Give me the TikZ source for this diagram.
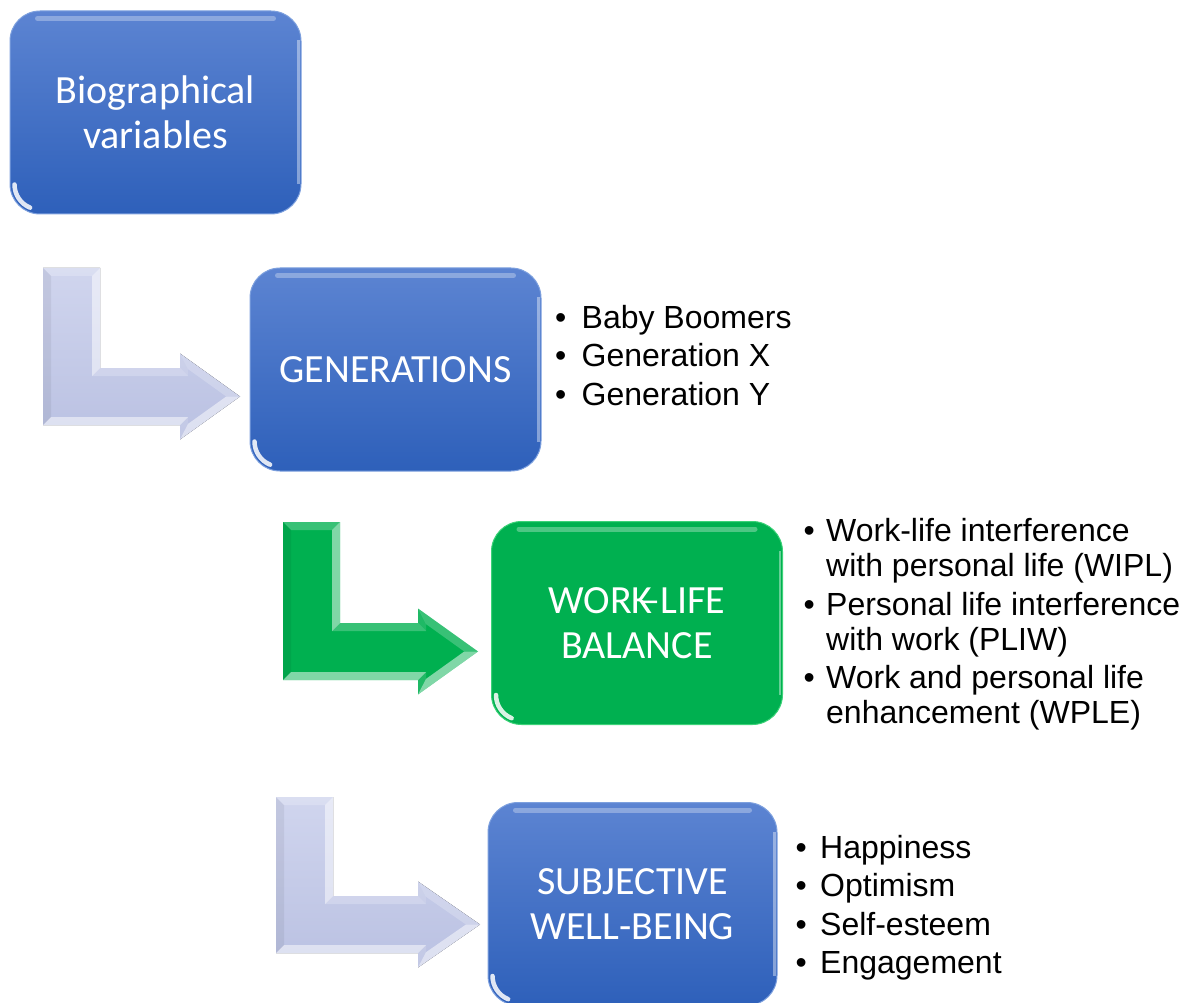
\documentclass[tikz,border=0pt]{standalone}
\usepackage{fontspec}
\setmainfont{Liberation Sans}
\newfontfamily\calfont{Carlito}
\usetikzlibrary{calc}

\definecolor{bluetop}{RGB}{92,132,210}
\definecolor{bluebot}{RGB}{46,96,186}
\definecolor{blueedge}{RGB}{125,160,222}
\definecolor{greenbody}{RGB}{0,176,80}
\definecolor{greenedge}{RGB}{60,210,120}
\definecolor{lavtop}{RGB}{208,213,238}
\definecolor{lavbot}{RGB}{186,193,226}

\tikzset{
  stagebox/.style={rectangle, rounded corners=30pt, minimum width=291pt,
    minimum height=203pt, inner sep=0pt, align=center, text=white,
    font=\calfont\fontsize{40}{45}\selectfont, line width=1pt},
  bluestage/.style={stagebox, top color=bluetop, bottom color=bluebot, draw=blueedge},
  greenstage/.style={stagebox, fill=greenbody, draw=greenedge},
  bulletmark/.style={anchor=base west, inner sep=0pt, text=black,
    font=\fontsize{32}{35}\selectfont},
  itemtext/.style={anchor=base west, inner sep=0pt, text=black,
    font=\fontsize{32}{35}\selectfont},
  lightface/.style={fill=white, fill opacity=0.22},
  brightface/.style={fill=white, fill opacity=0.5},
  midface/.style={fill=white, fill opacity=0.12},
  darkface/.style={fill=black, fill opacity=0.06},
}

% glossy bevel on a stage box
\newcommand\stagegloss[1]{%
  \draw[white, opacity=0.3, line width=5pt, line cap=round]
    ($(#1.north west)+(28,8)$) -- ($(#1.north east)+(-28,8)$);
  \draw[white, opacity=0.4, line width=2.5pt]
    ($(#1.north east)+(-3,30)$) -- ($(#1.south east)+(-3,-30)$);
  \draw[white, opacity=0.85, line width=4.5pt, line cap=round]
    ($(#1.south west)+(5,-30)$) arc[start angle=180, end angle=112, radius=25];
}

% bent block arrow: #1,#2 top-left corner, #3 tip offset, #4 bar bottom offset,
% #5 head start offset, #6 body fill style
\newcommand\bentarrow[6]{%
\begin{scope}[shift={(#1,#2)}]
  \pgfmathsetmacro\baT{57}
  \pgfmathsetmacro\baH{43}
  \pgfmathsetmacro\baD{8}
  \pgfmathsetmacro\baC{#4-\baT/2}
  \pgfmathsetmacro\baL{#3-#5}
  \pgfmathsetmacro\baR{sqrt(\baL*\baL+\baH*\baH)}
  \pgfmathsetmacro\baQy{\baH*\baD/\baL+\baD*\baR/\baL}
  \pgfmathsetmacro\baQx{#3-\baD*\baR/\baH}
  \coordinate (p1) at (0,0);
  \coordinate (p2) at (\baT,0);
  \coordinate (p3) at (\baT,#4-\baT);
  \coordinate (p4) at (#5,#4-\baT);
  \coordinate (p5) at (#5,\baC-\baH);
  \coordinate (p6) at (#3,\baC);
  \coordinate (p7) at (#5,\baC+\baH);
  \coordinate (p8) at (#5,#4);
  \coordinate (p9) at (0,#4);
  \coordinate (q1) at (\baD,\baD);
  \coordinate (q2) at (\baT-\baD,\baD);
  \coordinate (q3) at (\baT-\baD,#4-\baT+\baD);
  \coordinate (q4) at (#5+\baD,#4-\baT+\baD);
  \coordinate (q5) at (#5+\baD,\baC-\baH+\baQy);
  \coordinate (q6) at (\baQx,\baC);
  \coordinate (q7) at (#5+\baD,\baC+\baH-\baQy);
  \coordinate (q8) at (#5+\baD,#4-\baD);
  \coordinate (q9) at (\baD,#4-\baD);
  \fill[#6] (p1)--(p2)--(p3)--(p4)--(p5)--(p6)--(p7)--(p8)--(p9)--cycle;
  \fill[lightface]  (p1)--(p2)--(q2)--(q1)--cycle;
  \fill[brightface] (p2)--(p3)--(q3)--(q2)--cycle;
  \fill[lightface]  (p3)--(p4)--(q4)--(q3)--cycle;
  \fill[midface]    (p4)--(p5)--(q5)--(q4)--cycle;
  \fill[lightface]  (p5)--(p6)--(q6)--(q5)--cycle;
  \fill[brightface] (p6)--(p7)--(q7)--(q6)--cycle;
  \fill[midface]    (p7)--(p8)--(q8)--(q7)--cycle;
  \fill[brightface] (p8)--(p9)--(q9)--(q8)--cycle;
  \fill[darkface]   (p9)--(p1)--(q1)--(q9)--cycle;
\end{scope}}

\begin{document}
\begin{tikzpicture}[x=1pt,y=-1pt]
\useasboundingbox (0,0) rectangle (1187,1003);
\clip (0,0) rectangle (1187,1003);

% bent arrows between stages
\bentarrow{43}{268}{197}{157}{137}{top color=lavtop, bottom color=lavbot}
\bentarrow{283}{522}{195}{158}{135}{fill=greenbody}
\bentarrow{276}{797}{204}{156}{142}{top color=lavtop, bottom color=lavbot}

% stage boxes
\node[bluestage] (bio) at (155.5,112.5) {Biographical\\variables};
\stagegloss{bio}
\node[bluestage] (gen) at (395.5,369.5) {GENERATIONS};
\stagegloss{gen}
\node[greenstage] (wlb) at (637,623) {WORK\kern-0.3em–LIFE\\BALANCE};
\stagegloss{wlb}
\node[bluestage, minimum width=289pt] (swb) at (632.5,904) {SUBJECTIVE\\WELL-BEING};
\stagegloss{swb}

% generations
\node[bulletmark] (g1b) at (555,328.3) {•};
\node[itemtext] (g1) at (581.5,328.3) {Baby Boomers};
\node[bulletmark] (g2b) at (555,366.7) {•};
\node[itemtext] (g2) at (581.5,366.7) {Generation X};
\node[bulletmark] (g3b) at (555,405) {•};
\node[itemtext] (g3) at (581.5,405) {Generation Y};

% work-life balance dimensions
\node[bulletmark] (w1b) at (803.5,541.7) {•};
\node[itemtext] (w1) at (826,541.7) {Work-life interference};
\node[itemtext] (w1c) at (826,576.7) {with personal life (WIPL)};
\node[bulletmark] (w2b) at (803.5,615) {•};
\node[itemtext] (w2) at (826,615) {Personal life interference};
\node[itemtext] (w2c) at (826,650) {with work (PLIW)};
\node[bulletmark] (w3b) at (803.5,688.3) {•};
\node[itemtext] (w3) at (826,688.3) {Work and personal life};
\node[itemtext] (w3c) at (826,723.3) {enhancement (WPLE)};

% subjective well-being indicators
\node[bulletmark] (s1b) at (795.5,858.3) {•};
\node[itemtext] (s1) at (820,858.3) {Happiness};
\node[bulletmark] (s2b) at (795.5,896.7) {•};
\node[itemtext] (s2) at (820,896.7) {Optimism};
\node[bulletmark] (s3b) at (795.5,935) {•};
\node[itemtext] (s3) at (820,935) {Self-esteem};
\node[bulletmark] (s4b) at (795.5,973) {•};
\node[itemtext] (s4) at (820,973) {Engagement};
\end{tikzpicture}
\end{document}
